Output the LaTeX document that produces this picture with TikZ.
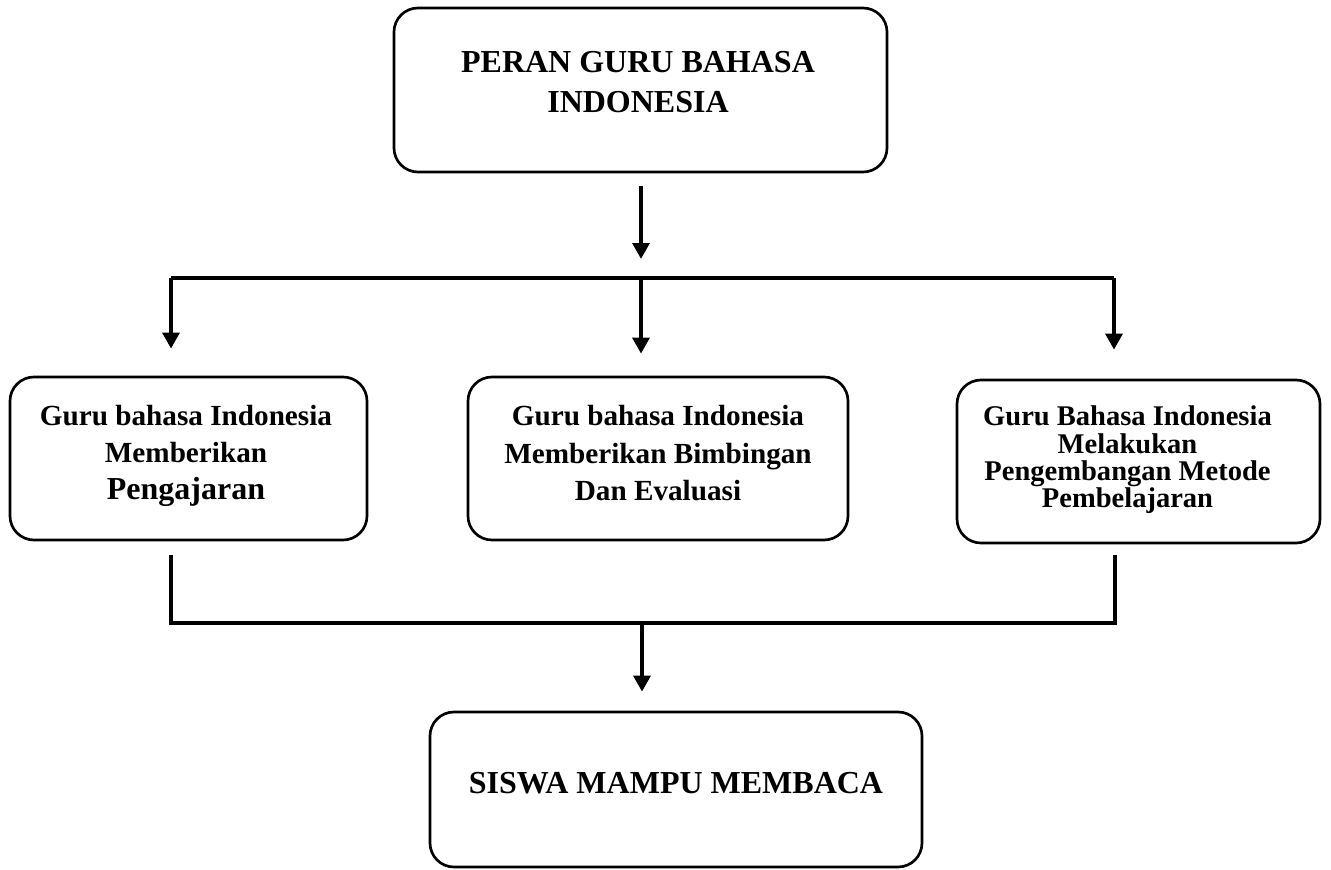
\documentclass[tikz,border=0pt]{standalone}
\usepackage{fontspec}
\setmainfont{Liberation Serif}
\usetikzlibrary{arrows.meta}
\begin{document}
\begin{tikzpicture}[x=0.75pt,y=-0.75pt,
  box/.style={draw, line width=2pt, rounded corners=18pt, inner sep=0pt},
  txt/.style={inner sep=0pt, align=center, anchor=north},
  conn/.style={line width=3pt},
  arr/.style={conn, -{Triangle[length=12pt,width=12.5pt]}}]
\useasboundingbox (0,0) rectangle (1331,870);

% boxes
\node[box, minimum width=369.75pt, minimum height=123pt] (T) at (640.5,90) {};
\node[box, minimum width=267.75pt, minimum height=122.25pt] (b1) at (188.5,458.5) {};
\node[box, minimum width=285pt, minimum height=122.25pt] (b2) at (658,458.5) {};
\node[box, minimum width=272.25pt, minimum height=122.25pt] (b3) at (1138.5,461.5) {};
\node[box, minimum width=369pt, minimum height=116.25pt] (S) at (676,789.5) {};

% texts
\node[txt, font=\bfseries\fontsize{24}{30}\selectfont] (tT) at (638,51) {PERAN GURU BAHASA\\INDONESIA};
\node[txt, font=\bfseries\fontsize{21.9}{27.4}\selectfont] (t1) at (186,405) {Guru bahasa Indonesia\\Memberikan\\[0.6pt]{\fontsize{24}{28}\selectfont Pengajaran}};
\node[txt, font=\bfseries\fontsize{21.9}{28.2}\selectfont] (t2) at (658,405) {Guru bahasa Indonesia\\Memberikan Bimbingan\\Dan Evaluasi};
\node[txt, font=\bfseries\fontsize{21.4}{20.6}\selectfont] (t3) at (1127.5,405.5) {Guru Bahasa Indonesia\\Melakukan\\Pengembangan Metode\\Pembelajaran};
\node[txt, font=\bfseries\fontsize{24}{30}\selectfont] (tS) at (676,772) {SISWA MAMPU MEMBACA};

% junction coordinates
\coordinate (lt) at (171,278);
\coordinate (mt) at (641,278);
\coordinate (rt) at (1114,278);
\coordinate (lb) at (171,623);
\coordinate (mb) at (642,623);
\coordinate (rb) at (1115,623);

% connectors
\draw[arr, shorten <=9.75pt, shorten >=14.25pt] (T.south -| mt) -- (mt);
\draw[conn] (lt) -- (rt);
\draw[arr, shorten >=20.25pt] (lt) -- (lt |- b1.north);
\draw[arr, shorten >=16.5pt] (mt) -- (mt |- b2.north);
\draw[arr, shorten >=21.75pt] (rt) -- (rt |- b3.north);
\draw[conn, shorten <=10.5pt, shorten >=8.25pt] (b1.south -| lb) -- (lb) -- (rb) -- (b3.south -| rb);
\draw[arr, shorten >=14.25pt] (mb) -- (S.north -| mb);
\end{tikzpicture}
\end{document}
